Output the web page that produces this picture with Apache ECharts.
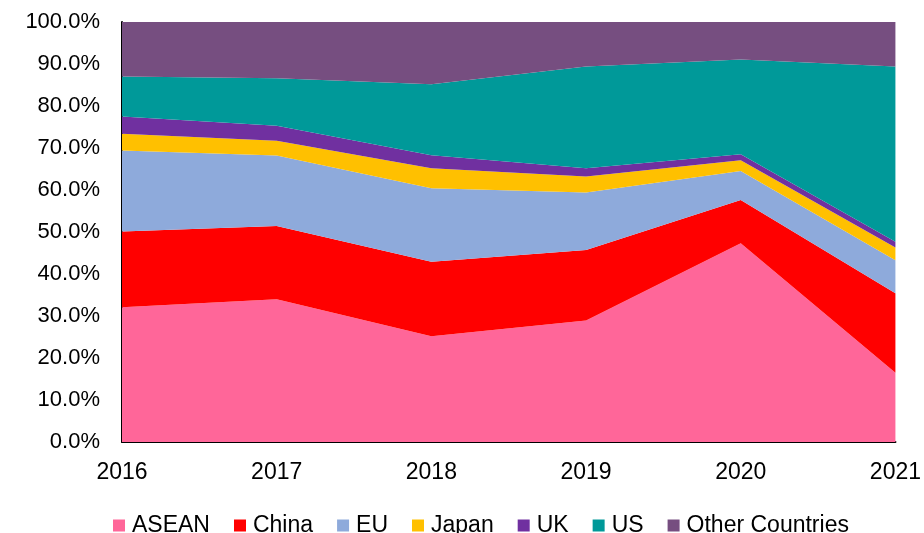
<!DOCTYPE html>
<html>
<head>
<meta charset="utf-8">
<script src="https://cdn.jsdelivr.net/npm/echarts@6/dist/echarts.min.js"></script>
<style>
  html, body { margin: 0; padding: 0; background: #fff; }
  #chart { width: 924px; height: 533px; }
</style>
</head>
<body>
<div id="chart"></div>
<script>
// share of total, in percent
const years = ['2016', '2017', '2018', '2019', '2020', '2021']
const asean = [32.1, 34.0, 25.2, 28.9, 47.3, 16.5]
const china = [18.0, 17.4, 17.7, 16.8, 10.3, 18.9]
const eu = [19.3, 16.8, 17.5, 13.7, 6.9, 7.9]
const japan = [4.0, 3.5, 4.8, 3.8, 2.6, 3.0]
const uk = [4.1, 3.6, 3.1, 2.0, 1.4, 1.4]
const us = [9.5, 11.3, 16.9, 24.2, 22.6, 41.7]
const others = [13.0, 13.4, 14.8, 10.6, 8.9, 10.6]

const font = 'Arial, "Liberation Sans", sans-serif'

function area(name, data, color) {
  return {
    name: name,
    type: 'line',
    stack: 'total',
    data: data,
    symbol: 'none',
    lineStyle: { width: 0 },
    itemStyle: { color: color },
    areaStyle: { color: color, opacity: 1 }
  }
}

const chart = echarts.init(document.getElementById('chart'))
chart.setOption({
  animation: false,
  grid: {
    left: 122,
    right: 27,
    top: 22,
    bottom: 91
  },
  legend: {
    top: 509,
    left: 108,
    icon: 'rect',
    itemWidth: 12,
    itemHeight: 12,
    itemGap: 24,
    textStyle: {
      fontFamily: font,
      fontSize: 23,
      color: '#000',
      padding: [0, 0, 0, 2]
    }
  },
  xAxis: {
    type: 'category',
    data: years,
    boundaryGap: false,
    axisLine: { lineStyle: { color: '#000', width: 2 } },
    axisTick: { show: false },
    axisLabel: {
      margin: 19,
      fontFamily: font,
      fontSize: 23,
      color: '#000'
    }
  },
  yAxis: {
    type: 'value',
    min: 0,
    max: 100,
    interval: 10,
    splitLine: { show: false },
    axisLine: { show: true, lineStyle: { color: '#000', width: 2 } },
    axisTick: { show: false },
    axisLabel: {
      margin: 22,
      fontFamily: font,
      fontSize: 22,
      color: '#000',
      formatter: function (v) { return v.toFixed(1) + '%' }
    }
  },
  series: [
    area('ASEAN', asean, '#FF6699'),
    area('China', china, '#FF0000'),
    area('EU', eu, '#8EAADB'),
    area('Japan', japan, '#FFC000'),
    area('UK', uk, '#7030A0'),
    area('US', us, '#009999'),
    area('Other Countries', others, '#764E80')
  ]
})
</script>
</body>
</html>
